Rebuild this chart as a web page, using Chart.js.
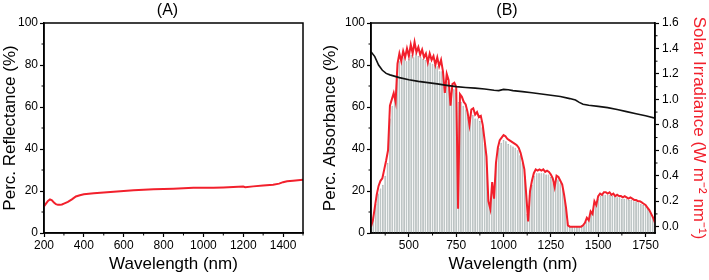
<!DOCTYPE html>
<html>
<head>
<meta charset="utf-8">
<script src="https://cdn.jsdelivr.net/npm/chart.js@4.4.0/dist/chart.umd.min.js"></script>
<style>
  html, body { margin: 0; padding: 0; background: #fff; }
  #wrap { position: relative; width: 709px; height: 280px; }
  #panelA { position: absolute; left: 0; top: 0; }
  #panelB { position: absolute; left: 320px; top: 0; }
</style>
</head>
<body>
<div id="wrap">
  <canvas id="panelA" width="320" height="280"></canvas>
  <canvas id="panelB" width="389" height="280"></canvas>
</div>
<script>
// (A) reflectance
const reflWl = [200, 210, 220, 230, 240, 250, 260, 270, 280, 290, 300, 320, 340, 360, 380, 400, 450, 500, 550, 600,
  650, 700, 750, 800, 850, 900, 950, 1000, 1050, 1100, 1150, 1200, 1210, 1250, 1300, 1350, 1380, 1400, 1420, 1450, 1500];
const reflectance = [12.7, 14.0, 15.3, 16.0, 15.6, 14.5, 13.7, 13.4, 13.4, 13.6, 14.0, 14.8, 16.0, 17.4, 18.0, 18.4, 18.9, 19.3, 19.7, 20.0,
  20.3, 20.6, 20.8, 21.0, 21.1, 21.3, 21.5, 21.6, 21.5, 21.7, 21.9, 22.1, 21.8, 22.2, 22.6, 23.0, 23.5, 24.2, 24.6, 24.9, 25.3];
const aXTicks = [200, 400, 600, 800, 1000, 1200, 1400];
const aXMinor = [300, 500, 700, 900, 1100, 1300, 1500];
const aYTicks = [0, 20, 40, 60, 80, 100];
const aYMinor = [10, 30, 50, 70, 90];

// (B) absorbance (left axis)
const absWl = [300, 320, 340, 360, 380, 400, 450, 500, 550, 600, 650, 700, 750, 800, 850, 900, 950, 975, 1000, 1025,
  1050, 1100, 1150, 1200, 1250, 1300, 1350, 1380, 1400, 1420, 1450, 1500, 1550, 1600, 1650, 1700, 1750, 1800];
const absorbance = [86.3, 84.0, 80.0, 77.5, 76.0, 75.3, 74.0, 73.0, 72.2, 71.6, 71.0, 70.3, 69.7, 69.3, 69.0, 68.6, 68.0, 67.8, 68.4, 68.2,
  67.8, 67.3, 66.8, 66.2, 65.6, 65.0, 64.0, 63.3, 62.2, 61.3, 60.8, 60.3, 59.7, 58.8, 57.8, 56.8, 55.8, 54.7];

// (B) solar irradiance (right axis)
const irrWl = [300, 310, 320, 330, 340, 350, 360, 370, 380, 390,
  400, 410, 420, 430, 440, 450, 460, 470, 480, 490,
  500, 510, 520, 530, 540, 550, 560, 570, 580, 590,
  600, 610, 620, 630, 640, 650, 660, 670, 680, 690,
  700, 710, 720, 730, 740, 750, 760, 770, 780, 790,
  800, 810, 820, 830, 840, 850, 860, 870, 880, 890,
  900, 910, 920, 930, 940, 950, 960, 970, 980, 990,
  1000, 1010, 1020, 1030, 1040, 1050, 1060, 1070, 1080, 1090,
  1100, 1110, 1120, 1130, 1140, 1150, 1160, 1170, 1180, 1190,
  1200, 1210, 1220, 1230, 1240, 1250, 1260, 1270, 1280, 1290,
  1300, 1310, 1320, 1330, 1340, 1350, 1360, 1370, 1380, 1390,
  1400, 1410, 1420, 1430, 1440, 1450, 1460, 1470, 1480, 1490,
  1500, 1510, 1520, 1530, 1540, 1550, 1560, 1570, 1580, 1590,
  1600, 1610, 1620, 1630, 1640, 1650, 1660, 1670, 1680, 1690,
  1700, 1710, 1720, 1730, 1740, 1750, 1760, 1770, 1780, 1790, 1800];
const irradiance = [0.00, 0.05, 0.15, 0.25, 0.32, 0.36, 0.38, 0.45, 0.52, 0.60,
  0.95, 1.00, 1.05, 0.98, 1.28, 1.36, 1.30, 1.38, 1.33, 1.40,
  1.34, 1.43, 1.36, 1.45, 1.37, 1.41, 1.35, 1.39, 1.33, 1.36,
  1.29, 1.36, 1.31, 1.34, 1.27, 1.33, 1.26, 1.31, 1.22, 1.05,
  1.20, 1.15, 0.95, 1.12, 1.13, 1.10, 0.14, 1.04, 1.02, 0.98,
  0.96, 0.90, 0.80, 0.92, 0.93, 0.88, 0.90, 0.86, 0.87, 0.80,
  0.68, 0.55, 0.20, 0.14, 0.35, 0.22, 0.50, 0.62, 0.68, 0.70,
  0.72, 0.71, 0.69, 0.68, 0.67, 0.66, 0.65, 0.64, 0.62, 0.58,
  0.52, 0.45, 0.25, 0.04, 0.28, 0.36, 0.42, 0.45, 0.44, 0.45,
  0.44, 0.45, 0.43, 0.44, 0.43, 0.41, 0.38, 0.31, 0.40, 0.39,
  0.36, 0.33, 0.25, 0.15, 0.01, 0.00, 0.00, 0.00, 0.00, 0.00,
  0.00, 0.00, 0.01, 0.03, 0.07, 0.05, 0.12, 0.10, 0.20, 0.17,
  0.24, 0.26, 0.25, 0.27, 0.27, 0.26, 0.27, 0.25, 0.26, 0.24,
  0.25, 0.24, 0.24, 0.23, 0.24, 0.23, 0.22, 0.23, 0.22, 0.21,
  0.21, 0.20, 0.20, 0.19, 0.18, 0.17, 0.15, 0.13, 0.10, 0.07, 0.03];

// (B) grey bars (right axis)
const barWl = [300, 312.5, 325, 337.5, 350, 362.5, 375, 387.5,
  400, 412.5, 425, 437.5, 450, 462.5, 475, 487.5,
  500, 512.5, 525, 537.5, 550, 562.5, 575, 587.5,
  600, 612.5, 625, 637.5, 650, 662.5, 675, 687.5,
  700, 712.5, 725, 737.5, 750, 762.5, 775, 787.5,
  800, 812.5, 825, 837.5, 850, 862.5, 875, 887.5,
  900, 912.5, 925, 937.5, 950, 962.5, 975, 987.5,
  1000, 1012.5, 1025, 1037.5, 1050, 1062.5, 1075, 1087.5,
  1100, 1112.5, 1125, 1137.5, 1150, 1162.5, 1175, 1187.5,
  1200, 1212.5, 1225, 1237.5, 1250, 1262.5, 1275, 1287.5,
  1300, 1312.5, 1325, 1337.5, 1350, 1362.5, 1375, 1387.5,
  1400, 1412.5, 1425, 1437.5, 1450, 1462.5, 1475, 1487.5,
  1500, 1512.5, 1525, 1537.5, 1550, 1562.5, 1575, 1587.5,
  1600, 1612.5, 1625, 1637.5, 1650, 1662.5, 1675, 1687.5,
  1700, 1712.5, 1725, 1737.5, 1750, 1762.5, 1775, 1787.5, 1800];
const barVals = [0.00, 0.08, 0.18, 0.26, 0.30, 0.33, 0.40, 0.50,
  0.85, 0.95, 1.00, 1.22, 1.30, 1.30, 1.33, 1.30,
  1.32, 1.35, 1.33, 1.36, 1.34, 1.33, 1.32, 1.31,
  1.30, 1.29, 1.28, 1.27, 1.26, 1.22, 1.22, 1.10,
  1.14, 1.08, 1.00, 1.08, 1.05, 0.98, 0.98, 0.95,
  0.92, 0.86, 0.84, 0.88, 0.85, 0.85, 0.83, 0.78,
  0.65, 0.45, 0.18, 0.28, 0.30, 0.52, 0.62, 0.66,
  0.68, 0.67, 0.65, 0.64, 0.63, 0.62, 0.60, 0.56,
  0.50, 0.40, 0.10, 0.25, 0.33, 0.40, 0.42, 0.42,
  0.42, 0.42, 0.41, 0.41, 0.39, 0.34, 0.36, 0.37,
  0.34, 0.30, 0.20, 0.04, 0.00, 0.00, 0.00, 0.00,
  0.00, 0.005, 0.01, 0.04, 0.06, 0.10, 0.14, 0.18,
  0.22, 0.24, 0.25, 0.25, 0.25, 0.25, 0.24, 0.24,
  0.23, 0.23, 0.22, 0.22, 0.22, 0.21, 0.21, 0.20,
  0.20, 0.19, 0.18, 0.17, 0.16, 0.14, 0.12, 0.08, 0.03];

const bXTicks = [500, 750, 1000, 1250, 1500, 1750];
const bXMinor = [375, 625, 875, 1125, 1375, 1625];
const bYTicks = [0, 20, 40, 60, 80, 100];
const bYMinor = [10, 30, 50, 70, 90];
const bY2Ticks = [0, 0.2, 0.4, 0.6, 0.8, 1.0, 1.2, 1.4, 1.6];
const bY2Minor = [0.1, 0.3, 0.5, 0.7, 0.9, 1.1, 1.3, 1.5];

const FONT = '"Liberation Sans", Arial, sans-serif';
const RED = '#f2202c';
const pairs = (xs, ys) => xs.map((x, i) => ({ x: x, y: ys[i] }));

// frame box, minor ticks and panel title
const framePlugin = {
  id: 'frame',
  afterDatasetsDraw(chart, args, opts) {
    const ctx = chart.ctx;
    const a = chart.chartArea;
    ctx.save();
    ctx.strokeStyle = '#000';
    ctx.lineWidth = 1.5;
    ctx.strokeRect(a.left, a.top, a.right - a.left, a.bottom - a.top);
    ctx.lineWidth = 1;
    Object.keys(opts.minor || {}).forEach(id => {
      const s = chart.scales[id];
      ctx.beginPath();
      opts.minor[id].forEach(v => {
        const p = s.getPixelForValue(v);
        if (s.isHorizontal()) { ctx.moveTo(p, a.bottom); ctx.lineTo(p, a.bottom + 2.5); }
        else if (s.position === 'left') { ctx.moveTo(a.left, p); ctx.lineTo(a.left - 2.5, p); }
        else { ctx.moveTo(a.right, p); ctx.lineTo(a.right + 2.5, p); }
      });
      ctx.stroke();
    });
    ctx.font = '16px ' + FONT;
    ctx.fillStyle = '#000';
    ctx.textAlign = 'center';
    ctx.textBaseline = 'middle';
    ctx.fillText(opts.title, (a.left + a.right) / 2 - 6, 11);
    ctx.restore();
  }
};

function axis(extra) {
  return Object.assign({
    border: { display: true, color: '#000', width: 1.5 },
    grid: { drawOnChartArea: false, drawTicks: true, tickLength: 4, tickColor: '#000', tickWidth: 1.2, offset: false }
  }, extra);
}
const setTicks = list => s => { s.ticks = list.map(v => ({ value: v })); };
const tickFont = { family: FONT, size: 12 };
const titleFont = { family: FONT, size: 17 };

new Chart(document.getElementById('panelA'), {
  type: 'line',
  data: {
    datasets: [{
      data: pairs(reflWl, reflectance),
      borderColor: RED, borderWidth: 2, pointRadius: 0, tension: 0
    }]
  },
  options: {
    responsive: false,
    animation: false,
    layout: { padding: { top: 23, right: 17, left: 0, bottom: 0 } },
    plugins: { legend: { display: false }, tooltip: { enabled: false },
      frame: { title: '(A)', minor: { x: aXMinor, y: aYMinor } } },
    scales: {
      x: axis({
        type: 'linear', min: 200, max: 1500,
        afterBuildTicks: setTicks(aXTicks),
        afterFit: s => { s.height = 47; },
        ticks: { font: tickFont, color: '#000', padding: 1, maxRotation: 0, autoSkip: false, callback: v => String(v) },
        title: { display: true, text: 'Wavelength (nm)', color: '#000', font: titleFont, padding: { top: 0, bottom: 5 } }
      }),
      y: axis({
        type: 'linear', min: 0, max: 100,
        afterBuildTicks: setTicks(aYTicks),
        afterFit: s => { s.width = 44; },
        ticks: { font: tickFont, color: '#000', padding: 2, callback: v => String(v) },
        title: { display: true, text: 'Perc. Reflectance (%)', color: '#000', font: titleFont, padding: 0 }
      })
    }
  },
  plugins: [framePlugin]
});

new Chart(document.getElementById('panelB'), {
  type: 'bar',
  data: {
    datasets: [
      {
        type: 'line', data: pairs(absWl, absorbance), yAxisID: 'y',
        borderColor: '#111', borderWidth: 1.6, pointRadius: 0, tension: 0, order: 0
      },
      {
        type: 'line', data: pairs(irrWl, irradiance), yAxisID: 'y2',
        borderColor: RED, borderWidth: 2, pointRadius: 0, tension: 0, order: 1
      },
      {
        type: 'bar', data: pairs(barWl, barVals), yAxisID: 'y2', base: -0.05,
        backgroundColor: '#b3bdbd', borderColor: '#869090', borderWidth: 0.5,
        categoryPercentage: 1, barPercentage: 0.72, order: 2
      }
    ]
  },
  options: {
    responsive: false,
    animation: false,
    layout: { padding: { top: 23, right: 0, left: 0, bottom: 0 } },
    plugins: { legend: { display: false }, tooltip: { enabled: false },
      frame: { title: '(B)', minor: { x: bXMinor, y: bYMinor, y2: bY2Minor } } },
    scales: {
      x: axis({
        type: 'linear', min: 300, max: 1800, offset: false,
        afterBuildTicks: setTicks(bXTicks),
        afterFit: s => { s.height = 47; },
        ticks: { font: tickFont, color: '#000', padding: 1, maxRotation: 0, autoSkip: false, callback: v => String(v) },
        title: { display: true, text: 'Wavelength (nm)', color: '#000', font: titleFont, padding: { top: 0, bottom: 5 } }
      }),
      y: axis({
        type: 'linear', position: 'left', min: 0, max: 100,
        afterBuildTicks: setTicks(bYTicks),
        afterFit: s => { s.width = 51; },
        ticks: { font: tickFont, color: '#000', padding: 2, callback: v => String(v) },
        title: { display: true, text: 'Perc. Absorbance (%)', color: '#000', font: titleFont, padding: 0 }
      }),
      y2: axis({
        type: 'linear', position: 'right', min: -0.05, max: 1.6,
        afterBuildTicks: setTicks(bY2Ticks),
        afterFit: s => { s.width = 54; },
        ticks: { font: tickFont, color: '#000', padding: 3, callback: v => v.toFixed(1) },
        title: { display: true, text: 'Solar Irradiance (W m\u207B\u00B2 nm\u207B\u00B9)', color: RED, font: titleFont, padding: 0 }
      })
    }
  },
  plugins: [framePlugin]
});
</script>
</body>
</html>
